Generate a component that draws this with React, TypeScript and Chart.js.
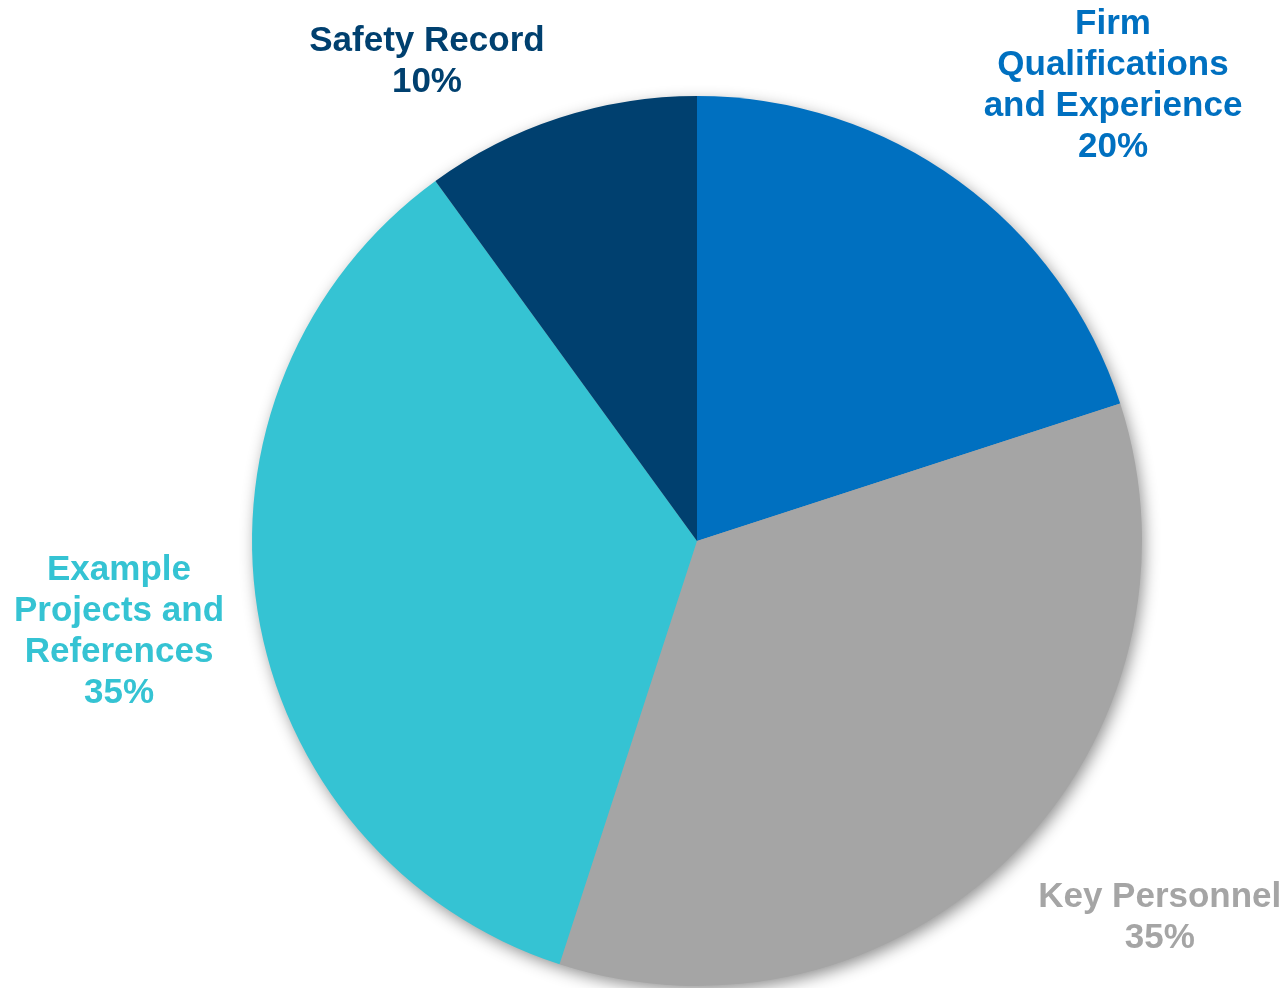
import React, { useEffect, useRef } from "react";
import { Chart, registerables } from "chart.js";

Chart.register(...registerables);

const categories = [
  ["Firm", "Qualifications", "and Experience"],
  ["Key Personnel"],
  ["Example", "Projects and", "References"],
  ["Safety Record"],
];
const values = [20, 35, 35, 10];
const percentLabels = ["20%", "35%", "35%", "10%"];
const sliceColors = ["#0070C0", "#A5A5A5", "#35C3D3", "#00406F"];

// label placement relative to each slice: radial factor and angle offset (deg)
const labelRadial = [1.389, 1.338, 1.314, 1.24];
const labelAngleOffset = [6.3, -6.0, 0.3, -11.3];

const shadowPlugin = {
  id: "pieShadow",
  beforeDatasetsDraw(chart: any) {
    const meta = chart.getDatasetMeta(0);
    const arc = meta.data[0];
    if (!arc) return;
    const { x, y, outerRadius } = arc.getProps(["x", "y", "outerRadius"], true);
    const ctx = chart.ctx;
    ctx.save();
    ctx.shadowColor = "rgba(0,0,0,0.45)";
    ctx.shadowBlur = 16;
    ctx.shadowOffsetX = 3;
    ctx.shadowOffsetY = 5;
    ctx.fillStyle = "#A5A5A5";
    ctx.beginPath();
    ctx.arc(x, y, outerRadius - 1, 0, Math.PI * 2);
    ctx.fill();
    ctx.restore();
  },
};

const labelPlugin = {
  id: "outsideLabels",
  afterDatasetsDraw(chart: any) {
    const meta = chart.getDatasetMeta(0);
    const ctx = chart.ctx;
    const fontSize = 35;
    const lineH = 41;
    ctx.save();
    ctx.font = `bold ${fontSize}px "Liberation Sans", Arial, sans-serif`;
    ctx.textAlign = "center";
    ctx.textBaseline = "middle";
    meta.data.forEach((arc: any, i: number) => {
      const { x, y, startAngle, endAngle, outerRadius } = arc.getProps(
        ["x", "y", "startAngle", "endAngle", "outerRadius"],
        true
      );
      const mid = (startAngle + endAngle) / 2 + (labelAngleOffset[i] * Math.PI) / 180;
      const d = outerRadius * labelRadial[i];
      const cx = x + Math.cos(mid) * d;
      const cy = y + Math.sin(mid) * d + 2.5;
      const lines = [...categories[i], percentLabels[i]];
      const top = cy - ((lines.length - 1) * lineH) / 2;
      ctx.fillStyle = sliceColors[i];
      lines.forEach((t, k) => ctx.fillText(t, cx, top + k * lineH));
    });
    ctx.restore();
  },
};

export default function App() {
  const ref = useRef<HTMLCanvasElement>(null);
  useEffect(() => {
    document.body.style.margin = "0";
    const chart = new Chart(ref.current!, {
      type: "pie",
      data: {
        labels: categories.map((c) => c.join(" ")),
        datasets: [
          {
            data: values,
            backgroundColor: sliceColors,
            borderWidth: 0,
          },
        ],
      },
      options: {
        animation: false,
        responsive: false,
        rotation: 0,
        layout: { padding: { left: 252, right: 146, top: 96, bottom: 2 } },
        plugins: {
          legend: { display: false },
          tooltip: { enabled: false },
        },
      },
      plugins: [shadowPlugin, labelPlugin],
    });
    return () => chart.destroy();
  }, []);
  return (
    <div style={{ width: 1288, height: 988, background: "#fff" }}>
      <canvas ref={ref} width={1288} height={988} style={{ display: "block" }} />
    </div>
  );
}
